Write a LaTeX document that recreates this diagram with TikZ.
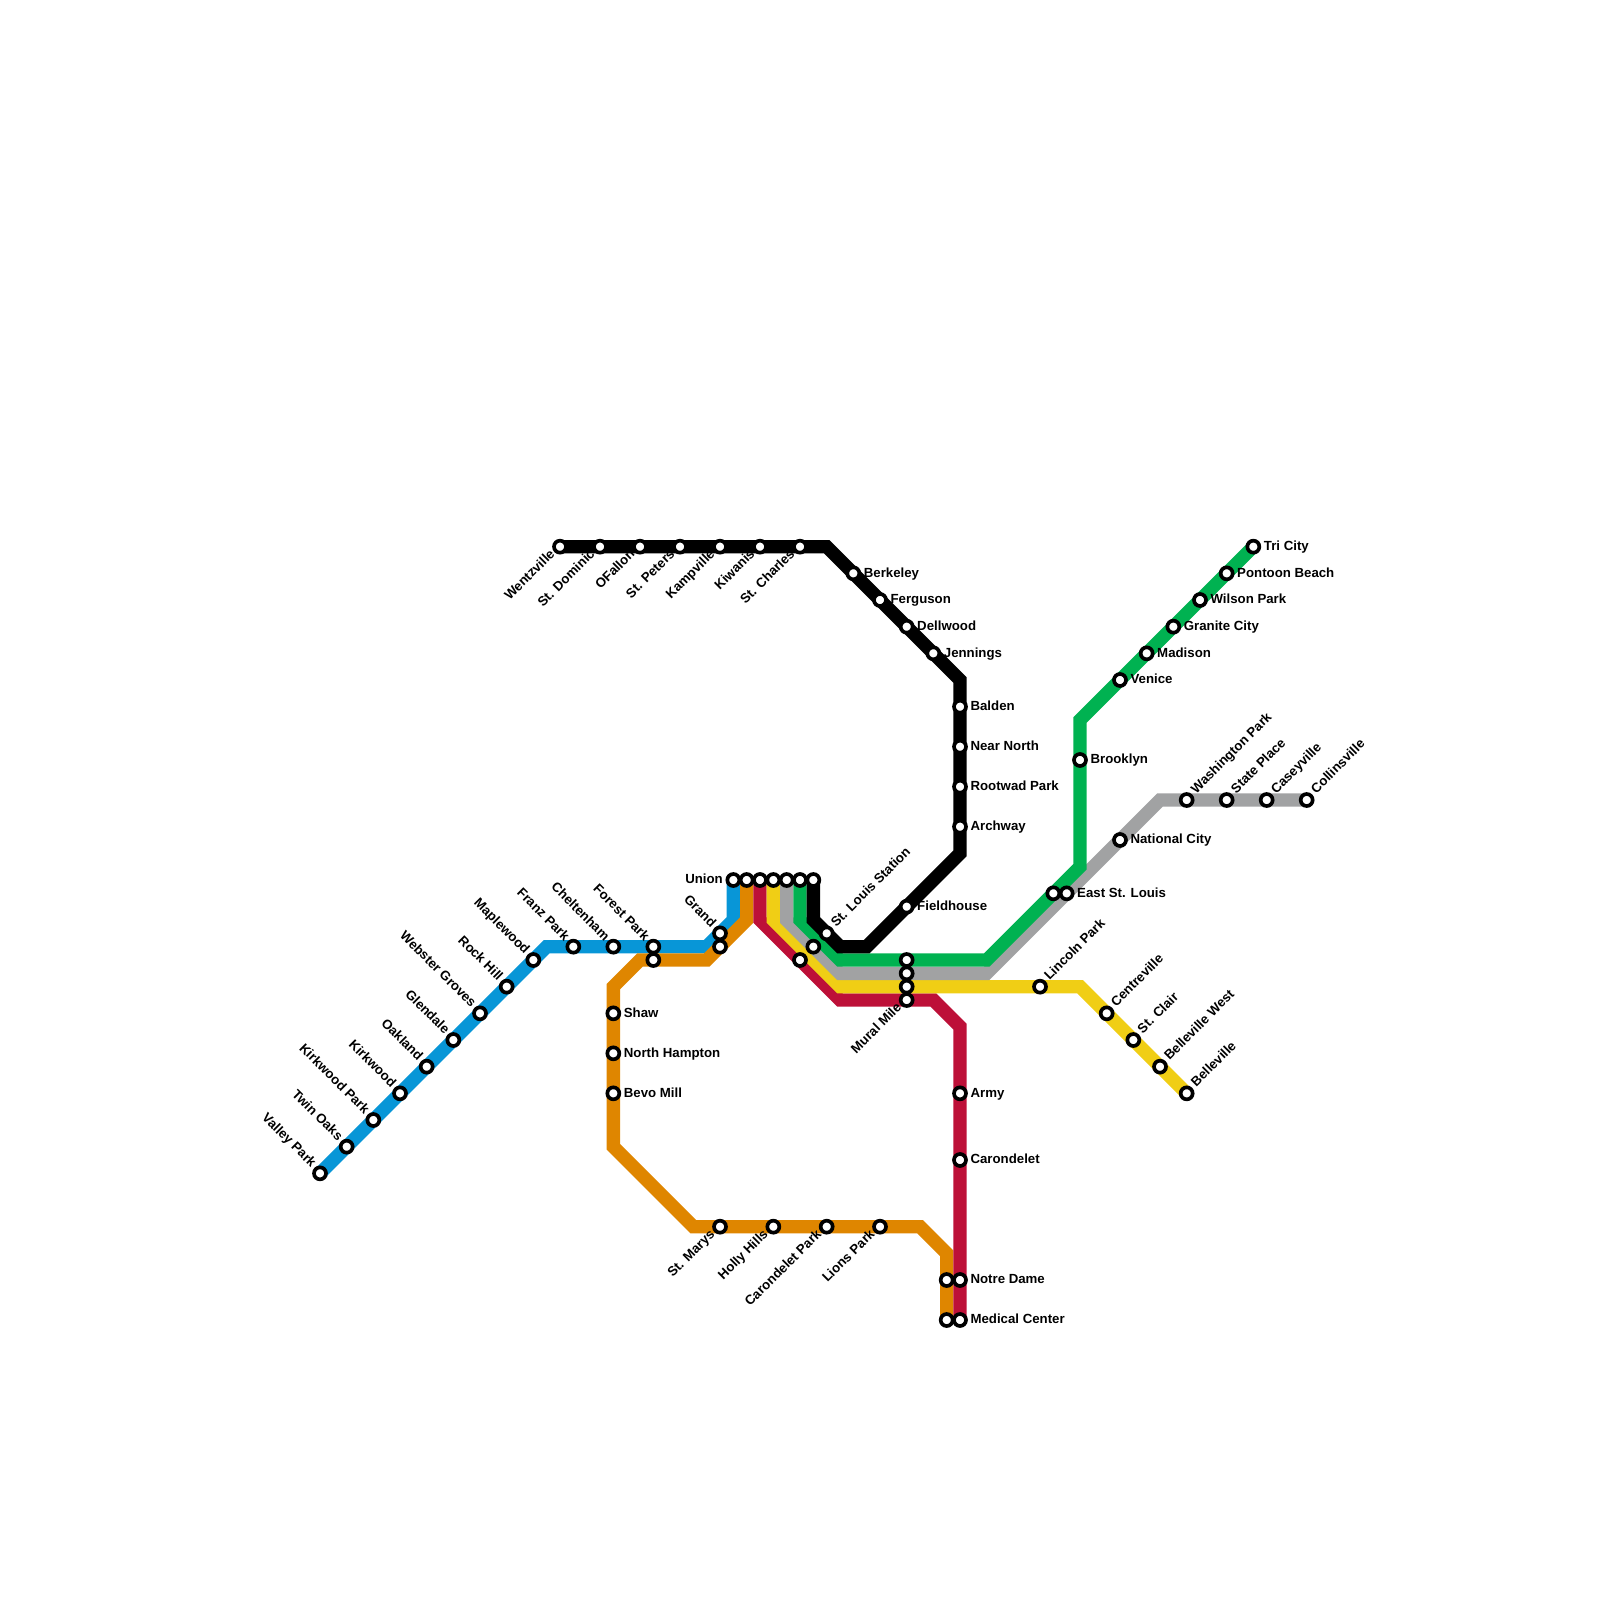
\documentclass[tikz,border=0pt]{standalone}
\usepackage{xcolor}
\usepackage{fontspec}
\setmainfont{Liberation Sans}
\definecolor{lineBlue}{RGB}{8,150,215}
\definecolor{lineOrange}{RGB}{223,134,0}
\definecolor{lineRed}{RGB}{189,16,56}
\definecolor{lineYellow}{RGB}{240,206,21}
\definecolor{lineGrey}{RGB}{161,162,163}
\definecolor{lineGreen}{RGB}{0,178,81}
\pgfdeclarelayer{lines}
\pgfsetlayers{lines,main}
\tikzset{
  stn/.style={circle,draw=black,fill=white,line width=0.11cm,minimum size=0.36cm,inner sep=0pt},
  metro/.style={line width=0.4cm,line join=miter},
  lbltxt/.style={inner sep=0pt,font=\fontsize{11.3}{13}\selectfont\bfseries},
  lblE/.style={lbltxt,anchor=base west,xshift=0.31cm,yshift=-0.11cm},
  lblW/.style={lbltxt,anchor=base east,xshift=-0.31cm,yshift=-0.11cm},
  lblNE/.style={lbltxt,anchor=base west,rotate=45,xshift=0.32cm,yshift=-0.08cm},
  lblSW/.style={lbltxt,anchor=base east,rotate=45,xshift=-0.27cm,yshift=-0.08cm},
  lblNW/.style={lbltxt,anchor=base east,rotate=-45,xshift=-0.3cm,yshift=-0.08cm}
}

\begin{document}
\begin{tikzpicture}[x=0.4cm,y=-0.4cm]
\useasboundingbox (0,0) rectangle (120,120);

% stations without a label
\foreach \id/\x/\y in {orangeunion/56/66,redunion/57/66,yellowunion/58/66,greyunion/59/66,greenunion/60/66,blackunion/61/66,
    grandb/54/71,forestparkb/49/72,greymid/61/71,redmid/60/72,greenmural/68/72,greymural/68/73,yellowmural/68/74,
    greeneast/79/67,notredameb/71/96,medicalb/71/99}
  \node[stn] (\id) at (\x,\y) {};

% stations with the label to the right
\foreach \id/\x/\y/\txt in {berkeley/64/43/Berkeley,ferguson/66/45/Ferguson,dellwood/68/47/Dellwood,jennings/70/49/Jennings,
    balden/72/53/Balden,nearnorth/72/56/Near North,rootwad/72/59/Rootwad Park,archway/72/62/Archway,fieldhouse/68/68/Fieldhouse,
    tricity/94/41/Tri City,pontoon/92/43/Pontoon Beach,wilson/90/45/Wilson Park,granite/88/47/Granite City,madison/86/49/Madison,
    venice/84/51/Venice,brooklyn/81/57/Brooklyn,national/84/63/National City,eaststl/80/67/East St. Louis,
    shaw/46/76/Shaw,northhampton/46/79/North Hampton,bevo/46/82/Bevo Mill,
    army/72/82/Army,carondelet/72/87/Carondelet,notredame/72/96/Notre Dame,medical/72/99/Medical Center}{
  \node[stn] (\id) at (\x,\y) {};
  \node[lblE] (\id-lbl) at (\id.center) {\txt};
}

\node[stn] (union) at (55,66) {};
\node[lblW] (union-lbl) at (union.center) {Union};

% labels rising to the right of the station
\foreach \id/\x/\y/\txt in {stlouis/62/70/St. Louis Station,washington/89/60/Washington Park,stateplace/92/60/State Place,
    caseyville/95/60/Caseyville,collinsville/98/60/Collinsville,lincoln/78/74/Lincoln Park,centreville/83/76/Centreville,
    stclair/85/78/St. Clair,bellevillew/87/80/Belleville West,belleville/89/82/Belleville}{
  \node[stn] (\id) at (\x,\y) {};
  \node[lblNE] (\id-lbl) at (\id.center) {\txt};
}

% labels below and to the left
\foreach \id/\x/\y/\txt in {wentzville/42/41/Wentzville,stdominic/45/41/St. Dominic,ofallon/48/41/OFallon,stpeters/51/41/St. Peters,
    kampville/54/41/Kampville,kiwanis/57/41/Kiwanis,stcharles/60/41/St. Charles,stmarys/54/92/St. Marys,hollyhills/58/92/Holly Hills,
    carondeletpark/62/92/Carondelet Park,lionspark/66/92/Lions Park,muralmile/68/75/Mural Mile}{
  \node[stn] (\id) at (\x,\y) {};
  \node[lblSW] (\id-lbl) at (\id.center) {\txt};
}

% labels above and to the left
\foreach \id/\x/\y/\txt in {valleypark/24/88/Valley Park,twinoaks/26/86/Twin Oaks,kirkwoodpark/28/84/Kirkwood Park,kirkwood/30/82/Kirkwood,
    oakland/32/80/Oakland,glendale/34/78/Glendale,webster/36/76/Webster Groves,rockhill/38/74/Rock Hill,maplewood/40/72/Maplewood,
    franzpark/43/71/Franz Park,cheltenham/46/71/Cheltenham,forestpark/49/71/Forest Park,grand/54/70/Grand}{
  \node[stn] (\id) at (\x,\y) {};
  \node[lblNW] (\id-lbl) at (\id.center) {\txt};
}

% corners of the lines
\foreach \id/\x/\y in {bc1/41/71,bc2/53/71,bc3/55/69,
    oc1/56/69,oc2/53/72,oc3/48/72,oc4/46/74,oc5/46/86,oc6/52/92,oc7/69/92,oc8/71/94,
    rc1/57/69,rc2/63/75,rc3/70/75,rc4/72/77,
    yc1/58/69,yc2/63/74,yc3/81/74,
    sc1/59/69,sc2/63/73,sc3/74/73,sc4/87/60,
    gc1/60/69,gc2/63/72,gc3/74/72,gc4/81/65,gc5/81/54,
    kc1/62/41,kc2/72/51,kc3/72/64,kc4/65/71,kc5/63/71,kc6/61/69}
  \coordinate (\id) at (\x,\y);

\begin{pgfonlayer}{lines}
\draw[metro,lineBlue] (valleypark.center) -- (bc1) -- (bc2) -- (bc3) -- (union.center);
\draw[metro,lineOrange] (orangeunion.center) -- (oc1) -- (oc2) -- (oc3) -- (oc4) -- (oc5) -- (oc6) -- (oc7) -- (oc8) -- (medicalb.center);
\draw[metro,lineRed] (redunion.center) -- (rc1) -- (rc2) -- (rc3) -- (rc4) -- (medical.center);
\draw[metro,lineYellow] (yellowunion.center) -- (yc1) -- (yc2) -- (yc3) -- (belleville.center);
\draw[metro,lineGrey] (greyunion.center) -- (sc1) -- (sc2) -- (sc3) -- (sc4) -- (collinsville.center);
\draw[metro,lineGreen] (greenunion.center) -- (gc1) -- (gc2) -- (gc3) -- (gc4) -- (gc5) -- (tricity.center);
\draw[metro,black] (wentzville.center) -- (kc1) -- (kc2) -- (kc3) -- (kc4) -- (kc5) -- (kc6) -- (blackunion.center);
\end{pgfonlayer}
\end{tikzpicture}
\end{document}
